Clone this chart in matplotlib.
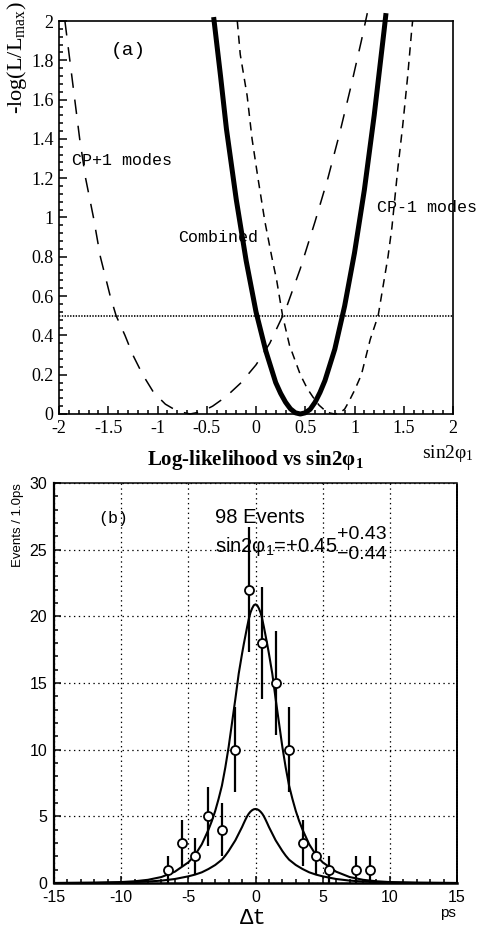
import matplotlib
matplotlib.use("Agg")
import matplotlib.pyplot as plt
from matplotlib.ticker import MultipleLocator, FuncFormatter

plt.rcParams['lines.scale_dashes'] = False
plt.rcParams['mathtext.default'] = 'regular'

# (a) likelihood scans, -log(L/Lmax) vs sin2phi1
comb_x = [-0.43, -0.36, -0.3, -0.2, -0.1, 0.0, 0.1, 0.2, 0.25, 0.3, 0.35, 0.4, 0.45,
          0.5, 0.55, 0.6, 0.65, 0.7, 0.8, 0.9, 1.0, 1.1, 1.2, 1.3, 1.32]
comb_y = [2.02, 1.72, 1.45, 1.09, 0.78, 0.52, 0.32, 0.16, 0.105, 0.06, 0.026, 0.006, 0.0,
          0.006, 0.024, 0.06, 0.11, 0.17, 0.33, 0.55, 0.82, 1.14, 1.52, 1.95, 2.04]

cp_plus_x = [-1.94, -1.89, -1.84, -1.79, -1.73, -1.65, -1.58, -1.48, -1.42, -1.33,
             -1.25, -1.15, -1.04, -0.92, -0.8, -0.67, -0.55, -0.44, -0.3, -0.15,
             0.0, 0.14, 0.3, 0.45, 0.6, 0.73, 0.85, 0.97, 1.07, 1.13]
cp_plus_y = [2.0, 1.8, 1.6, 1.4, 1.2, 1.0, 0.8, 0.6, 0.5, 0.4,
             0.3, 0.2, 0.11, 0.05, 0.015, 0.0, 0.012, 0.04, 0.09, 0.16,
             0.25, 0.36, 0.53, 0.74, 0.98, 1.2, 1.43, 1.68, 1.9, 2.04]

cp_minus_x = [-0.19, -0.16, -0.09, -0.04, 0.02, 0.09, 0.16, 0.21, 0.27, 0.34, 0.45,
              0.52, 0.58, 0.64, 0.70, 0.75, 0.80, 0.85, 0.90, 0.94, 1.0, 1.07, 1.16,
              1.24, 1.29, 1.34, 1.38, 1.44, 1.49, 1.54, 1.58, 1.59]
cp_minus_y = [2.0, 1.83, 1.62, 1.40, 1.2, 0.98, 0.8, 0.68, 0.5, 0.35, 0.2,
              0.13, 0.085, 0.045, 0.018, 0.005, 0.0, 0.005, 0.025, 0.06, 0.12, 0.2, 0.38,
              0.5, 0.65, 0.8, 0.95, 1.25, 1.47, 1.72, 1.95, 2.0]

# (b) proper-time difference distribution, 98 events
dt_bins = [-6.5, -5.5, -4.5, -3.5, -2.5, -1.5, -0.5, 0.5, 1.5, 2.5, 3.5, 4.5, 5.5, 7.5, 8.5]
n_events = [1, 3, 2, 5, 4, 10, 22, 18, 15, 10, 3, 2, 1, 1, 1]
n_err = [1.0, 1.7, 1.4, 2.2, 2.0, 3.2, 4.7, 4.2, 3.9, 3.2, 1.7, 1.4, 1.0, 1.0, 1.0]

fit_x = [-15, -12, -10, -9, -8, -7, -6, -5, -4.5, -4, -3.5, -3.25, -3, -2.75, -2.5,
         -2.25, -2, -1.875, -1.75, -1.625, -1.5, -1.375, -1.25, -1.125, -1, -0.875,
         -0.75, -0.625, -0.5, -0.375, -0.25, -0.125, 0, 0.125, 0.25, 0.375, 0.5, 0.625,
         0.75, 0.875, 1, 1.125, 1.25, 1.375, 1.5, 1.625, 1.75, 1.875, 2, 2.25, 2.5,
         2.75, 3, 3.25, 3.5, 4, 4.5, 5, 6, 7, 8, 9, 10, 12, 15]
fit_total = [0.0, 0.02, 0.07, 0.13, 0.24, 0.45, 0.85, 1.55, 2.1, 2.9, 4.0, 4.65, 5.4,
             6.3, 7.3, 8.65, 10.2, 11.1, 12.0, 12.9, 13.8, 14.75, 15.7, 16.45, 17.2,
             17.9, 18.55, 19.2, 19.8, 20.28, 20.6, 20.83, 20.9, 20.83, 20.6, 20.28, 19.8,
             19.2, 18.55, 17.9, 17.2, 16.45, 15.7, 14.75, 13.8, 12.9, 12.0, 11.1, 10.2,
             8.65, 7.3, 6.3, 5.4, 4.65, 4.0, 2.9, 2.1, 1.55, 0.85, 0.45, 0.24, 0.13, 0.07,
             0.02, 0.0]
fit_small = [0.0, 0.015, 0.04, 0.07, 0.11, 0.18, 0.3, 0.5, 0.63, 0.8, 1.05, 1.2, 1.35,
             1.55, 1.75, 2.05, 2.4, 2.6, 2.8, 3.0, 3.2, 3.45, 3.7, 3.95, 4.2, 4.48,
             4.75, 5.0, 5.2, 5.35, 5.46, 5.53, 5.55, 5.53, 5.46, 5.35, 5.2, 5.0, 4.75,
             4.48, 4.2, 3.95, 3.7, 3.45, 3.2, 3.0, 2.8, 2.6, 2.4, 2.05, 1.75, 1.55, 1.35,
             1.2, 1.05, 0.8, 0.63, 0.5, 0.3, 0.18, 0.11, 0.07, 0.04, 0.015, 0.0]

fig = plt.figure(figsize=(4.87, 9.32), dpi=100)

serif = 'Liberation Serif'
sans = 'Liberation Sans'
mono = 'Liberation Mono'

# ---------------- panel (a) ----------------
ax1 = fig.add_axes([59 / 487, 518 / 932, 394 / 487, 393 / 932])
ax1.plot(comb_x, comb_y, color='black', lw=3.6, clip_on=False, solid_capstyle='butt')
ax1.plot(cp_plus_x, cp_plus_y, color='black', lw=1.1, linestyle=(0, (10.5, 8.5)), clip_on=False)
ax1.plot(cp_minus_x, cp_minus_y, color='black', lw=1.1, linestyle=(0, (6, 4.5)), clip_on=False)
ax1.axhline(0.5, color='black', lw=1.2, linestyle=(0, (1, 1)))

ax1.set_xlim(-2, 2)
ax1.set_ylim(0, 2)
ax1.xaxis.set_major_locator(MultipleLocator(0.5))
ax1.xaxis.set_minor_locator(MultipleLocator(0.1))
ax1.yaxis.set_major_locator(MultipleLocator(0.2))
ax1.yaxis.set_minor_locator(MultipleLocator(0.04))
fmt = FuncFormatter(lambda v, p: ('%g' % round(v, 2)).replace('\u2212', '-'))
ax1.xaxis.set_major_formatter(fmt)
ax1.yaxis.set_major_formatter(fmt)
ax1.tick_params(which='both', direction='in', top=False, right=False, width=1.1)
ax1.tick_params(which='major', length=6, labelsize=13, pad=4)
ax1.tick_params(which='minor', length=3)
for lab in ax1.get_xticklabels() + ax1.get_yticklabels():
    lab.set_fontfamily(serif)
for s in ax1.spines.values():
    s.set_linewidth(1.2)

ax1.text(-1.30, 1.85, '(a)', family=mono, fontsize=14, ha='center', va='center')
ax1.text(-1.87, 1.29, 'CP+1 modes', family=mono, fontsize=12, ha='left', va='center')
ax1.text(1.23, 1.05, 'CP-1 modes', family=mono, fontsize=12, ha='left', va='center', clip_on=False)
ax1.text(-0.79, 0.9, 'Combined', family=mono, fontsize=12, ha='left', va='center')

fig.text(17 / 487, 1 - 58 / 932, '-log(L/L$_{max}$)', family=serif, fontsize=16,
         rotation=90, ha='center', va='center')
fig.text(448 / 487, 1 - 453 / 932, 'sin2φ$_1$', family=serif, fontsize=14,
         ha='center', va='center')
fig.text(255 / 487, 1 - 460 / 932, 'Log-likelihood vs sin2φ$_1$', family=serif,
         fontsize=15, fontweight='bold', ha='center', va='center')

# ---------------- panel (b) ----------------
ax2 = fig.add_axes([54 / 487, 49 / 932, 403 / 487, 400 / 932])
ax2.set_xlim(-15, 15)
ax2.set_ylim(0, 30)
ax2.xaxis.set_major_locator(MultipleLocator(5))
ax2.xaxis.set_minor_locator(MultipleLocator(1))
ax2.yaxis.set_major_locator(MultipleLocator(5))
ax2.yaxis.set_minor_locator(MultipleLocator(1))
ax2.grid(True, which='major', color='black', lw=0.9, linestyle=(0, (1, 2.5)))
ax2.set_axisbelow(True)

ax2.plot(fit_x, fit_total, color='black', lw=1.5)
ax2.plot(fit_x, fit_small, color='black', lw=1.5)
ax2.errorbar(dt_bins, n_events, yerr=n_err, fmt='o', ms=6.5, mfc='white', mec='black',
             mew=1.3, ecolor='black', elinewidth=1.6, capsize=0, zorder=3)

ax2.xaxis.set_major_formatter(FuncFormatter(lambda v, p: '%d' % v))
ax2.yaxis.set_major_formatter(FuncFormatter(lambda v, p: '%d' % v))
ax2.tick_params(which='both', direction='in', top=False, right=False, width=1.1)
ax2.tick_params(which='major', length=5, labelsize=11.5, pad=5)
ax2.tick_params(which='minor', length=3)
for lab in ax2.get_xticklabels() + ax2.get_yticklabels():
    lab.set_fontfamily(sans)
ax2.spines['left'].set_linewidth(1.6)
ax2.spines['bottom'].set_linewidth(1.8)
ax2.spines['top'].set_linewidth(1.1)
ax2.spines['right'].set_linewidth(1.4)
ax2.spines['right'].set_linestyle((0, (1, 1)))

ax2.text(-10.6, 27.3, '(b)', family=mono, fontsize=12, ha='center', va='center')
ax2.text(-3.0, 27.0, '98 Events', family=sans, fontsize=14.5, ha='left', va='baseline')
ax2.text(-3.0, 24.8, 'sin2φ$_1$=+0.45', family=sans, fontsize=14.5, ha='left', va='baseline')
ax2.text(6.1, 25.8, '+0.43', family=sans, fontsize=14, ha='left', va='baseline')
ax2.text(6.1, 24.3, '\u22120.44', family=sans, fontsize=14, ha='left', va='baseline')

fig.text(18 / 487, 1 - 525 / 932, 'Events / 1.0ps', family=sans, fontsize=9.5,
         rotation=90, ha='center', va='center')
fig.text(448 / 487, 1 - 913 / 932, 'ps', family=sans, fontsize=11, ha='center', va='center')
fig.text(253 / 487, 1 - 919 / 932, 'Δt', family=mono, fontsize=16, ha='center', va='center')

fig.savefig('out.png', dpi=100)
